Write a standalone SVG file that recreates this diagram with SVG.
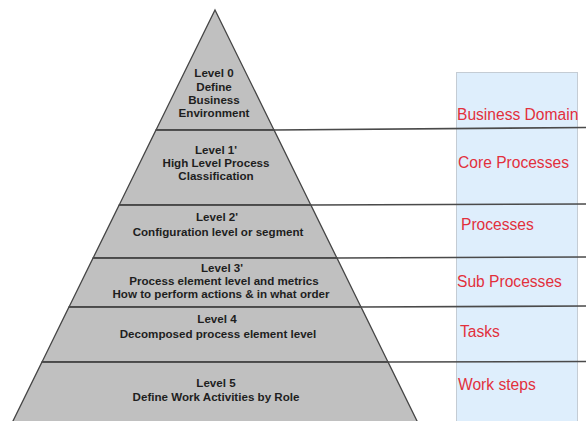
<svg xmlns="http://www.w3.org/2000/svg" width="586" height="421" viewBox="0 0 586 421">
<style>
.band{fill:#c0c0c0;stroke:#454545;stroke-width:1.3}
.lvl{font-family:"Liberation Sans",Arial,sans-serif;font-weight:bold;font-size:11.6px;fill:#1e1e1e;text-anchor:middle}
.lbl{font-family:"Liberation Sans",Arial,sans-serif;font-size:15.6px;fill:#e2303c}
.sep{stroke:#4a4a4a;stroke-width:1.6;fill:none}
</style>
<rect width="586" height="421" fill="#ffffff"/>
<g id="column">
<rect x="456.5" y="72.5" width="121" height="352" fill="#deeefc" stroke="#c4ccd4" stroke-width="1"/>
</g>
<g id="level0">
<polygon class="band" points="215,10 274,130 156,130"/>
<text class="lvl" x="214" y="77">Level 0</text>
<text class="lvl" x="214" y="91">Define</text>
<text class="lvl" x="214" y="104">Business</text>
<text class="lvl" x="214" y="117">Environment</text>
</g>
<g id="level1">
<polygon class="band" points="156,130 274,130 310.8,205 119.2,205"/>
<text class="lvl" x="216" y="154">Level 1'</text>
<text class="lvl" x="216" y="167">High Level Process</text>
<text class="lvl" x="216" y="180">Classification</text>
</g>
<g id="level2">
<polygon class="band" points="119.2,205 310.8,205 336.9,258 93.1,258"/>
<text class="lvl" x="217" y="221">Level 2'</text>
<text class="lvl" x="218" y="236">Configuration level or segment</text>
</g>
<g id="level3">
<polygon class="band" points="93.1,258 336.9,258 361,307 69,307"/>
<text class="lvl" x="222" y="272">Level 3'</text>
<text class="lvl" x="224" y="285">Process element level and metrics</text>
<text class="lvl" x="221" y="298">How to perform actions &amp; in what order</text>
</g>
<g id="level4">
<polygon class="band" points="69,307 361,307 388,362 42,362"/>
<text class="lvl" x="217" y="323">Level 4</text>
<text class="lvl" x="218" y="338">Decomposed process element level</text>
</g>
<g id="level5">
<polygon class="band" points="42,362 388,362 418,423 12,423"/>
<text class="lvl" x="216" y="387">Level 5</text>
<text class="lvl" x="216" y="401">Define Work Activities by Role</text>
</g>
<g id="connectors">
<path class="sep" d="M156,130 L274,130 L586,127.5"/>
<path class="sep" d="M119.2,205 L310.8,205 L586,204"/>
<path class="sep" d="M93.1,258 L336.9,258 L586,257"/>
<path class="sep" d="M69,307 L361,307 L586,306"/>
<path class="sep" d="M42,362 L388,362 L586,361.5"/>
</g>
<g id="labels">
<text class="lbl" x="457" y="120">Business Domain</text>
<text class="lbl" x="458" y="168">Core Processes</text>
<text class="lbl" x="461" y="230">Processes</text>
<text class="lbl" x="457" y="287">Sub Processes</text>
<text class="lbl" x="460" y="337">Tasks</text>
<text class="lbl" x="458" y="390">Work steps</text>
</g>
</svg>
